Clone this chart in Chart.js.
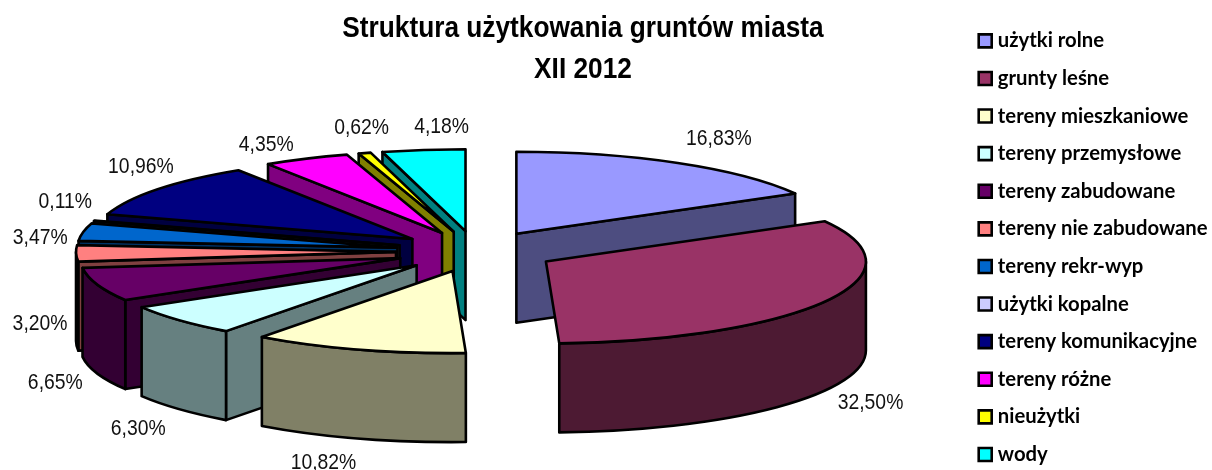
<!DOCTYPE html>
<html><head><meta charset="utf-8">
<style>html,body{margin:0;padding:0;background:#fff}canvas{display:block}</style>
<script src="https://cdn.jsdelivr.net/npm/chart.js@4"></script>
</head><body><canvas id="c" width="1212" height="470"></canvas>
<script>
const categories = ['użytki rolne','grunty leśne','tereny mieszkaniowe','tereny przemysłowe','tereny zabudowane','tereny nie zabudowane','tereny rekr-wyp','użytki kopalne','tereny komunikacyjne','tereny różne','nieużytki','wody'];
const values = [16.83,32.50,10.82,6.30,6.65,3.20,3.47,0.11,10.96,4.35,0.62,4.18];
const colors = ['#9999FF','#993366','#FFFFCC','#CCFFFF','#660066','#FF8080','#0066CC','#CCCCFF','#000080','#FF00FF','#FFFF00','#00FFFF'];
const sideColors = ['#4D4D80','#4D1A33','#808066','#668080','#330033','#804040','#003366','#666680','#000040','#800080','#808000','#008080'];
const titleLines = ['Struktura użytkowania gruntów miasta','XII 2012'];
const labelNudges = [[41,-24],[45,102],[-35,113],[-41,109],[-42,98],[-36,71],[-43,6],[-29,-19],[-17,-22],[-40,-14],[-3,-25],[18,-23]];

const PIE = {cx:476, cy:251.5, r:320, squash:82/320, depth:89, explode:80, line:2.6};

const pie3d = {
  id:'pie3d',
  afterLayout(chart){
    const t = chart.titleBlock, l = chart.legend, ctx = chart.ctx;
    t.left = 583-300; t.right = 583+300; t.top = 8.5; t.width = 600;
    l.left = 965.4; l.right = 1212; l.width = 246.6; l.top = 13.4; l.bottom = 520; l.height = 506.6;
    if(!t._squeezed){
      const draw = t.draw;
      t.draw = function(){
        ctx.save(); ctx.translate(583,0); ctx.scale(0.875,1); ctx.translate(-583,0);
        draw.call(t); ctx.restore();
      };
      t._squeezed = true;
    }
  },
  beforeDatasetDraw(chart, args){
    const ctx = chart.ctx, arcs = args.meta.data;
    const order = arcs.map((a,i)=>i).sort((p,q)=>{
      const m = a=>Math.sin((a.startAngle+a.endAngle)/2);
      return m(arcs[p])-m(arcs[q]);
    });
    const k = PIE.squash, D = PIE.depth, off = PIE.explode;
    order.forEach(i=>{
      const a = arcs[i];
      const mid = (a.startAngle+a.endAngle)/2, r = a.outerRadius;
      const x0 = PIE.cx+Math.cos(mid)*off, y0 = PIE.cy+Math.sin(mid)*off*k;
      const px = t=>x0+Math.cos(t)*r, py = t=>y0+Math.sin(t)*r*k;
      ctx.save();
      ctx.lineWidth = PIE.line; ctx.strokeStyle = '#000'; ctx.lineJoin = 'round';
      ctx.fillStyle = sideColors[i];
      const face = t=>{
        ctx.beginPath(); ctx.moveTo(x0,y0); ctx.lineTo(px(t),py(t));
        ctx.lineTo(px(t),py(t)+D); ctx.lineTo(x0,y0+D); ctx.closePath();
        ctx.fill(); ctx.stroke();
      };
      if(Math.cos(a.startAngle)<-0.1) face(a.startAngle);
      if(Math.cos(a.endAngle)>0.1) face(a.endAngle);
      const s = Math.max(a.startAngle,0), e = Math.min(a.endAngle,Math.PI);
      if(e>s){
        ctx.beginPath();
        ctx.ellipse(x0,y0,r,r*k,0,s,e);
        ctx.ellipse(x0,y0+D,r,r*k,0,e,s,true);
        ctx.closePath(); ctx.fill(); ctx.stroke();
      }
      ctx.restore();
      // top face: the library's own arc element, flattened and pulled out
      ctx.save();
      ctx.translate(x0,y0); ctx.scale(1,k); ctx.translate(-a.x,-a.y);
      a.draw(ctx);
      ctx.restore();
      ctx.save();
      ctx.lineWidth = PIE.line; ctx.strokeStyle = '#000'; ctx.lineJoin = 'round';
      ctx.beginPath(); ctx.moveTo(x0,y0);
      ctx.ellipse(x0,y0,r,r*k,0,a.startAngle,a.endAngle);
      ctx.closePath(); ctx.stroke();
      ctx.restore();
    });
    return false;
  },
  afterDatasetsDraw(chart){
    const ctx = chart.ctx, arcs = chart.getDatasetMeta(0).data;
    ctx.save();
    ctx.fillStyle = '#111';
    ctx.font = '22px "Liberation Sans"';
    ctx.textAlign = 'center'; ctx.textBaseline = 'middle';
    arcs.forEach((a,i)=>{
      const mid = (a.startAngle+a.endAngle)/2, R = a.outerRadius + PIE.explode;
      const x = PIE.cx+Math.cos(mid)*R+labelNudges[i][0];
      const y = PIE.cy+Math.sin(mid)*R*PIE.squash+labelNudges[i][1];
      ctx.save(); ctx.translate(x,y); ctx.scale(0.88,1);
      ctx.fillText(values[i].toFixed(2).replace('.',',')+'%',0,0);
      ctx.restore();
    });
    ctx.restore();
  }
};

new Chart(document.getElementById('c'),{
  type:'pie',
  data:{labels:categories,datasets:[{data:values,backgroundColor:colors,borderWidth:0,clip:false}]},
  options:{
    responsive:false,animation:false,radius:PIE.r,
    events:[],
    plugins:{
      tooltip:{enabled:false},
      title:{display:true,text:titleLines,color:'#000',padding:0,font:{family:'"Liberation Sans"',size:30,weight:'bold',lineHeight:1.35}},
      legend:{display:true,position:'right',align:'start',
        labels:{boxWidth:5,boxHeight:13,padding:17.3,usePointStyle:true,pointStyle:'rect',color:'#000',font:{family:'Lato',size:20.3,weight:'bold'},
          generateLabels(chart){
            return Chart.overrides.doughnut.plugins.legend.labels.generateLabels(chart).map(it=>Object.assign(it,{strokeStyle:'#000',lineWidth:2.6}));
          }}}
    }
  },
  plugins:[pie3d]
});
</script></body></html>
